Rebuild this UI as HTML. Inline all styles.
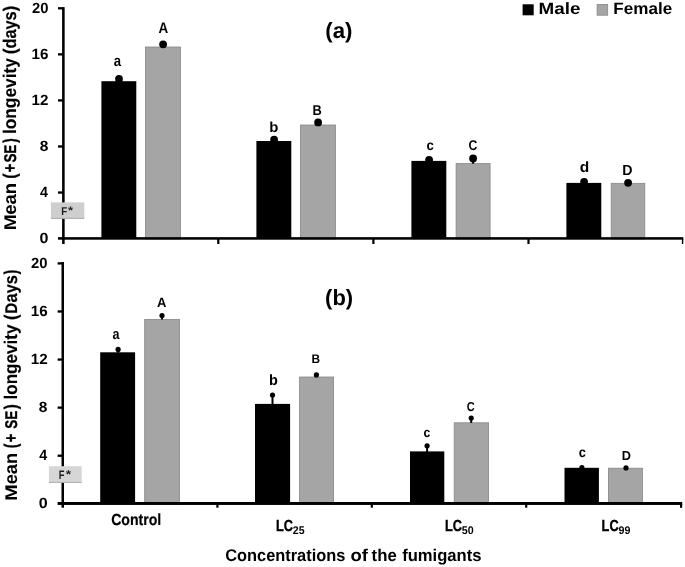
<!DOCTYPE html>
<html><head><meta charset="utf-8"><title>Chart</title>
<style>html,body{margin:0;padding:0;background:#fff;}body{width:685px;height:567px;overflow:hidden;}svg{display:block;filter:blur(0.3px);}text{font-family:"Liberation Sans",sans-serif;font-weight:bold;fill:#000;text-rendering:geometricPrecision;}</style>
</head><body>
<svg width="685" height="567" viewBox="0 0 685 567">
<rect x="0" y="0" width="685" height="567" fill="#fff"/>
<rect x="101.40" y="81.20" width="34.90" height="157.40" fill="#000"/>
<rect x="145.50" y="47.00" width="34.90" height="192.00" fill="#a5a5a5" stroke="#868686" stroke-width="0.8"/>
<rect x="256.40" y="141.00" width="34.90" height="97.60" fill="#000"/>
<rect x="300.40" y="125.00" width="35.00" height="114.00" fill="#a5a5a5" stroke="#868686" stroke-width="0.8"/>
<rect x="411.40" y="160.90" width="34.90" height="77.70" fill="#000"/>
<rect x="456.10" y="163.60" width="34.00" height="75.40" fill="#a5a5a5" stroke="#868686" stroke-width="0.8"/>
<rect x="566.40" y="182.90" width="34.90" height="55.70" fill="#000"/>
<rect x="611.20" y="183.30" width="33.60" height="55.70" fill="#a5a5a5" stroke="#868686" stroke-width="0.8"/>
<line x1="119.00" y1="79.00" x2="119.00" y2="81.70" stroke="#000" stroke-width="2"/>
<circle cx="119.00" cy="79.00" r="3.9" fill="#000"/>
<line x1="163.10" y1="44.30" x2="163.10" y2="47.10" stroke="#000" stroke-width="2"/>
<circle cx="163.10" cy="44.30" r="3.9" fill="#000"/>
<line x1="274.10" y1="139.70" x2="274.10" y2="141.50" stroke="#000" stroke-width="2"/>
<circle cx="274.10" cy="139.70" r="3.9" fill="#000"/>
<line x1="318.10" y1="122.40" x2="318.10" y2="125.10" stroke="#000" stroke-width="2"/>
<circle cx="318.10" cy="122.40" r="3.9" fill="#000"/>
<line x1="429.10" y1="160.00" x2="429.10" y2="161.20" stroke="#000" stroke-width="2"/>
<circle cx="429.10" cy="160.00" r="3.9" fill="#000"/>
<line x1="473.10" y1="158.50" x2="473.10" y2="163.70" stroke="#000" stroke-width="2"/>
<circle cx="473.10" cy="158.50" r="3.9" fill="#000"/>
<line x1="584.10" y1="181.80" x2="584.10" y2="183.30" stroke="#000" stroke-width="2"/>
<circle cx="584.10" cy="181.80" r="3.9" fill="#000"/>
<line x1="628.10" y1="182.80" x2="628.10" y2="183.40" stroke="#000" stroke-width="2"/>
<circle cx="628.10" cy="182.80" r="3.9" fill="#000"/>
<text x="113.72" y="66.44" font-size="15.53" textLength="7.30" lengthAdjust="spacingAndGlyphs">a</text>
<text x="158.46" y="33.10" font-size="15.39" textLength="9.70" lengthAdjust="spacingAndGlyphs">A</text>
<text x="269.31" y="131.55" font-size="14.51" textLength="9.10" lengthAdjust="spacingAndGlyphs">b</text>
<text x="312.44" y="114.70" font-size="14.23" textLength="9.25" lengthAdjust="spacingAndGlyphs">B</text>
<text x="426.39" y="150.46" font-size="14.06" textLength="7.30" lengthAdjust="spacingAndGlyphs">c</text>
<text x="468.60" y="149.76" font-size="14.11" textLength="8.84" lengthAdjust="spacingAndGlyphs">C</text>
<text x="579.66" y="172.25" font-size="14.79" textLength="9.46" lengthAdjust="spacingAndGlyphs">d</text>
<text x="622.14" y="174.50" font-size="14.66" textLength="10.26" lengthAdjust="spacingAndGlyphs">D</text>
<rect x="62.1" y="7.1" width="2.55" height="236.9" fill="#000"/>
<rect x="58" y="237.15" width="625.3" height="2.55" fill="#000"/>
<rect x="58" y="7.15" width="5" height="2.3" fill="#000"/>
<text x="32.00" y="12.80" font-size="14.8" textLength="16.50" lengthAdjust="spacingAndGlyphs">20</text>
<rect x="58" y="53.21" width="5" height="2.3" fill="#000"/>
<text x="31.60" y="58.86" font-size="14.8" textLength="16.91" lengthAdjust="spacingAndGlyphs">16</text>
<rect x="58" y="99.27" width="5" height="2.3" fill="#000"/>
<text x="31.60" y="104.92" font-size="14.8" textLength="16.91" lengthAdjust="spacingAndGlyphs">12</text>
<rect x="58" y="145.33" width="5" height="2.3" fill="#000"/>
<text x="39.78" y="150.98" font-size="14.8" textLength="8.63" lengthAdjust="spacingAndGlyphs">8</text>
<rect x="58" y="191.39" width="5" height="2.3" fill="#000"/>
<text x="40.06" y="197.04" font-size="14.8" textLength="7.95" lengthAdjust="spacingAndGlyphs">4</text>
<text x="39.62" y="243.10" font-size="14.8" textLength="8.94" lengthAdjust="spacingAndGlyphs">0</text>
<rect x="217.20" y="238.60" width="2.2" height="5.4" fill="#000"/>
<rect x="372.30" y="238.60" width="2.2" height="5.4" fill="#000"/>
<rect x="527.40" y="238.60" width="2.2" height="5.4" fill="#000"/>
<rect x="681.9" y="238.60" width="1.4" height="5.4" fill="#000"/>
<rect x="100.20" y="352.30" width="34.90" height="151.50" fill="#000"/>
<rect x="144.70" y="319.50" width="34.80" height="184.70" fill="#a5a5a5" stroke="#868686" stroke-width="0.8"/>
<rect x="255.00" y="403.90" width="35.10" height="99.90" fill="#000"/>
<rect x="299.60" y="377.00" width="34.00" height="127.20" fill="#a5a5a5" stroke="#868686" stroke-width="0.8"/>
<rect x="410.00" y="451.40" width="34.30" height="52.40" fill="#000"/>
<rect x="454.20" y="422.80" width="34.40" height="81.40" fill="#a5a5a5" stroke="#868686" stroke-width="0.8"/>
<rect x="564.50" y="467.80" width="34.40" height="36.00" fill="#000"/>
<rect x="608.40" y="468.20" width="34.00" height="36.00" fill="#a5a5a5" stroke="#868686" stroke-width="0.8"/>
<line x1="118.10" y1="349.40" x2="118.10" y2="352.80" stroke="#000" stroke-width="2"/>
<circle cx="118.10" cy="349.40" r="2.6" fill="#000"/>
<line x1="162.00" y1="315.50" x2="162.00" y2="319.50" stroke="#000" stroke-width="2"/>
<circle cx="162.00" cy="315.50" r="2.6" fill="#000"/>
<line x1="272.50" y1="395.10" x2="272.50" y2="404.40" stroke="#000" stroke-width="2"/>
<circle cx="272.50" cy="395.10" r="2.6" fill="#000"/>
<line x1="316.40" y1="374.90" x2="316.40" y2="377.10" stroke="#000" stroke-width="2"/>
<circle cx="316.40" cy="374.90" r="2.6" fill="#000"/>
<line x1="427.10" y1="445.80" x2="427.10" y2="452.10" stroke="#000" stroke-width="2"/>
<circle cx="427.10" cy="445.80" r="2.6" fill="#000"/>
<line x1="471.20" y1="418.00" x2="471.20" y2="422.90" stroke="#000" stroke-width="2"/>
<circle cx="471.20" cy="418.00" r="2.6" fill="#000"/>
<circle cx="581.90" cy="467.70" r="2.6" fill="#000"/>
<circle cx="626.00" cy="467.90" r="2.6" fill="#000"/>
<text x="112.54" y="338.85" font-size="14.98" textLength="6.98" lengthAdjust="spacingAndGlyphs">a</text>
<text x="156.88" y="306.80" font-size="13.5" textLength="9.38" lengthAdjust="spacingAndGlyphs">A</text>
<text x="268.94" y="385.15" font-size="14.79" textLength="8.85" lengthAdjust="spacingAndGlyphs">b</text>
<text x="311.40" y="362.80" font-size="12.34" textLength="8.54" lengthAdjust="spacingAndGlyphs">B</text>
<text x="423.42" y="436.96" font-size="13.52" textLength="6.85" lengthAdjust="spacingAndGlyphs">c</text>
<text x="466.75" y="411.17" font-size="12.98" textLength="7.95" lengthAdjust="spacingAndGlyphs">C</text>
<text x="578.71" y="456.56" font-size="14.06" textLength="7.07" lengthAdjust="spacingAndGlyphs">c</text>
<text x="621.74" y="460.10" font-size="13.07" textLength="9.20" lengthAdjust="spacingAndGlyphs">D</text>
<rect x="61.5" y="262" width="2.5" height="245.7" fill="#000"/>
<rect x="57.6" y="502.0" width="624.6" height="2.95" fill="#000"/>
<rect x="57.6" y="262.25" width="5" height="2.3" fill="#000"/>
<text x="31.10" y="268.00" font-size="14.8" textLength="16.50" lengthAdjust="spacingAndGlyphs">20</text>
<rect x="57.6" y="310.33" width="5" height="2.3" fill="#000"/>
<text x="30.70" y="316.08" font-size="14.8" textLength="16.91" lengthAdjust="spacingAndGlyphs">16</text>
<rect x="57.6" y="358.41" width="5" height="2.3" fill="#000"/>
<text x="30.70" y="364.16" font-size="14.8" textLength="16.91" lengthAdjust="spacingAndGlyphs">12</text>
<rect x="57.6" y="406.49" width="5" height="2.3" fill="#000"/>
<text x="38.88" y="412.24" font-size="14.8" textLength="8.63" lengthAdjust="spacingAndGlyphs">8</text>
<rect x="57.6" y="454.57" width="5" height="2.3" fill="#000"/>
<text x="39.16" y="460.32" font-size="14.8" textLength="7.95" lengthAdjust="spacingAndGlyphs">4</text>
<text x="38.72" y="508.40" font-size="14.8" textLength="8.94" lengthAdjust="spacingAndGlyphs">0</text>
<rect x="216.30" y="503.80" width="2.2" height="3.9" fill="#000"/>
<rect x="370.70" y="503.80" width="2.2" height="3.9" fill="#000"/>
<rect x="525.10" y="503.80" width="2.2" height="3.9" fill="#000"/>
<rect x="680" y="503.80" width="2.2" height="4" fill="#000"/>
<rect x="50.9" y="202.4" width="33.40" height="16.40" fill="#cecece"/>
<rect x="50.9" y="217.90" width="33.40" height="0.9" fill="#a8a8a8"/>
<text x="61.35" y="214.60" font-size="11.18" textLength="5.91" lengthAdjust="spacingAndGlyphs" style="fill:#1c1c1c">F</text>
<text x="67.95" y="214.00" font-size="10.74" textLength="5.07" lengthAdjust="spacingAndGlyphs" style="fill:#1c1c1c">*</text>
<rect x="48.9" y="466.2" width="32.80" height="16.60" fill="#d6d6d6"/>
<rect x="48.9" y="481.90" width="32.80" height="0.9" fill="#a8a8a8"/>
<text x="58.77" y="479.00" font-size="12.2" textLength="5.67" lengthAdjust="spacingAndGlyphs" style="fill:#1c1c1c">F</text>
<text x="65.65" y="478.07" font-size="11.28" textLength="5.38" lengthAdjust="spacingAndGlyphs" style="fill:#1c1c1c">*</text>
<text x="325.26" y="37.60" font-size="22" textLength="27.19" lengthAdjust="spacingAndGlyphs">(a)</text>
<text x="325.08" y="304.60" font-size="22" textLength="28.01" lengthAdjust="spacingAndGlyphs">(b)</text>
<rect x="522.6" y="4.3" width="11.1" height="11" fill="#000"/>
<text x="538.61" y="14.40" font-size="16.4" textLength="41.86" lengthAdjust="spacingAndGlyphs">Male</text>
<rect x="597.1" y="4.5" width="10.6" height="10.7" fill="#a5a5a5" stroke="#868686" stroke-width="0.8"/>
<text x="613.33" y="14.40" font-size="16.4" textLength="58.82" lengthAdjust="spacingAndGlyphs">Female</text>
<text x="111.15" y="524.60" font-size="16.0" textLength="50.14" lengthAdjust="spacingAndGlyphs" stroke="#000" stroke-width="0.21" stroke-linejoin="round">Control</text>
<text x="276.01" y="531.30" font-size="16.0" textLength="16.95" lengthAdjust="spacingAndGlyphs" stroke="#000" stroke-width="0.36" stroke-linejoin="round">LC</text>
<text x="292.85" y="533.90" font-size="11.2" textLength="11.76" lengthAdjust="spacingAndGlyphs">25</text>
<text x="445.01" y="531.30" font-size="16.0" textLength="16.95" lengthAdjust="spacingAndGlyphs" stroke="#000" stroke-width="0.36" stroke-linejoin="round">LC</text>
<text x="461.84" y="533.90" font-size="11.2" textLength="11.89" lengthAdjust="spacingAndGlyphs">50</text>
<text x="601.61" y="531.30" font-size="16.0" textLength="16.95" lengthAdjust="spacingAndGlyphs" stroke="#000" stroke-width="0.36" stroke-linejoin="round">LC</text>
<text x="618.44" y="533.90" font-size="11.2" textLength="11.89" lengthAdjust="spacingAndGlyphs">99</text>
<text x="225.18" y="561.40" font-size="17.0" textLength="120.19" lengthAdjust="spacingAndGlyphs">Concentrations</text>
<text x="350.62" y="561.40" font-size="17.0" textLength="17.39" lengthAdjust="spacingAndGlyphs">of</text>
<text x="371.55" y="561.40" font-size="17.0" textLength="25.16" lengthAdjust="spacingAndGlyphs">the</text>
<text x="402.16" y="561.40" font-size="17.0" textLength="79.36" lengthAdjust="spacingAndGlyphs">fumigants</text>
<text transform="translate(16.20,230.28) rotate(-90)" font-size="16.9" textLength="16.00" lengthAdjust="spacingAndGlyphs">M</text>
<text transform="translate(16.20,214.66) rotate(-90)" font-size="18.3" textLength="31.81" lengthAdjust="spacingAndGlyphs">ean</text>
<text transform="translate(16.20,178.62) rotate(-90)" font-size="18.3" textLength="4.99" lengthAdjust="spacingAndGlyphs" stroke="#000" stroke-width="0.36" stroke-linejoin="round">(</text>
<text transform="translate(16.20,172.52) rotate(-90)" font-size="18.3" textLength="8.90" lengthAdjust="spacingAndGlyphs" stroke="#000" stroke-width="0.34" stroke-linejoin="round">+</text>
<text transform="translate(16.20,162.60) rotate(-90)" font-size="16.9" textLength="17.93" lengthAdjust="spacingAndGlyphs" stroke="#000" stroke-width="0.38" stroke-linejoin="round">SE</text>
<text transform="translate(16.20,142.80) rotate(-90)" font-size="18.3" textLength="4.40" lengthAdjust="spacingAndGlyphs" stroke="#000" stroke-width="0.45" stroke-linejoin="round">)</text>
<text transform="translate(16.20,134.08) rotate(-90)" font-size="18.3" textLength="75.90" lengthAdjust="spacingAndGlyphs" stroke="#000" stroke-width="0.11" stroke-linejoin="round">longevity</text>
<text transform="translate(16.20,54.08) rotate(-90)" font-size="18.3" textLength="48.27" lengthAdjust="spacingAndGlyphs" stroke="#000" stroke-width="0.21" stroke-linejoin="round">(days)</text>
<text transform="translate(17.10,500.72) rotate(-90)" font-size="16.9" textLength="16.48" lengthAdjust="spacingAndGlyphs">M</text>
<text transform="translate(17.10,484.35) rotate(-90)" font-size="18.3" textLength="31.49" lengthAdjust="spacingAndGlyphs">ean</text>
<text transform="translate(17.10,448.35) rotate(-90)" font-size="18.3" textLength="4.52" lengthAdjust="spacingAndGlyphs" stroke="#000" stroke-width="0.45" stroke-linejoin="round">(</text>
<text transform="translate(17.10,442.52) rotate(-90)" font-size="18.3" textLength="8.90" lengthAdjust="spacingAndGlyphs" stroke="#000" stroke-width="0.34" stroke-linejoin="round">+</text>
<text transform="translate(17.10,428.70) rotate(-90)" font-size="16.9" textLength="17.93" lengthAdjust="spacingAndGlyphs" stroke="#000" stroke-width="0.38" stroke-linejoin="round">SE</text>
<text transform="translate(17.10,409.30) rotate(-90)" font-size="18.3" textLength="4.99" lengthAdjust="spacingAndGlyphs" stroke="#000" stroke-width="0.36" stroke-linejoin="round">)</text>
<text transform="translate(17.10,399.47) rotate(-90)" font-size="18.3" textLength="74.88" lengthAdjust="spacingAndGlyphs" stroke="#000" stroke-width="0.13" stroke-linejoin="round">longevity</text>
<text transform="translate(17.10,320.00) rotate(-90)" font-size="18.3" textLength="5.59" lengthAdjust="spacingAndGlyphs" stroke="#000" stroke-width="0.17" stroke-linejoin="round">(</text>
<text transform="translate(17.10,313.70) rotate(-90)" font-size="16.9" textLength="10.82" lengthAdjust="spacingAndGlyphs" stroke="#000" stroke-width="0.21" stroke-linejoin="round">D</text>
<text transform="translate(17.10,302.45) rotate(-90)" font-size="18.3" textLength="27.33" lengthAdjust="spacingAndGlyphs" stroke="#000" stroke-width="0.21" stroke-linejoin="round">ays</text>
<text transform="translate(17.10,274.30) rotate(-90)" font-size="18.3" textLength="4.52" lengthAdjust="spacingAndGlyphs" stroke="#000" stroke-width="0.45" stroke-linejoin="round">)</text>
</svg></body></html>
